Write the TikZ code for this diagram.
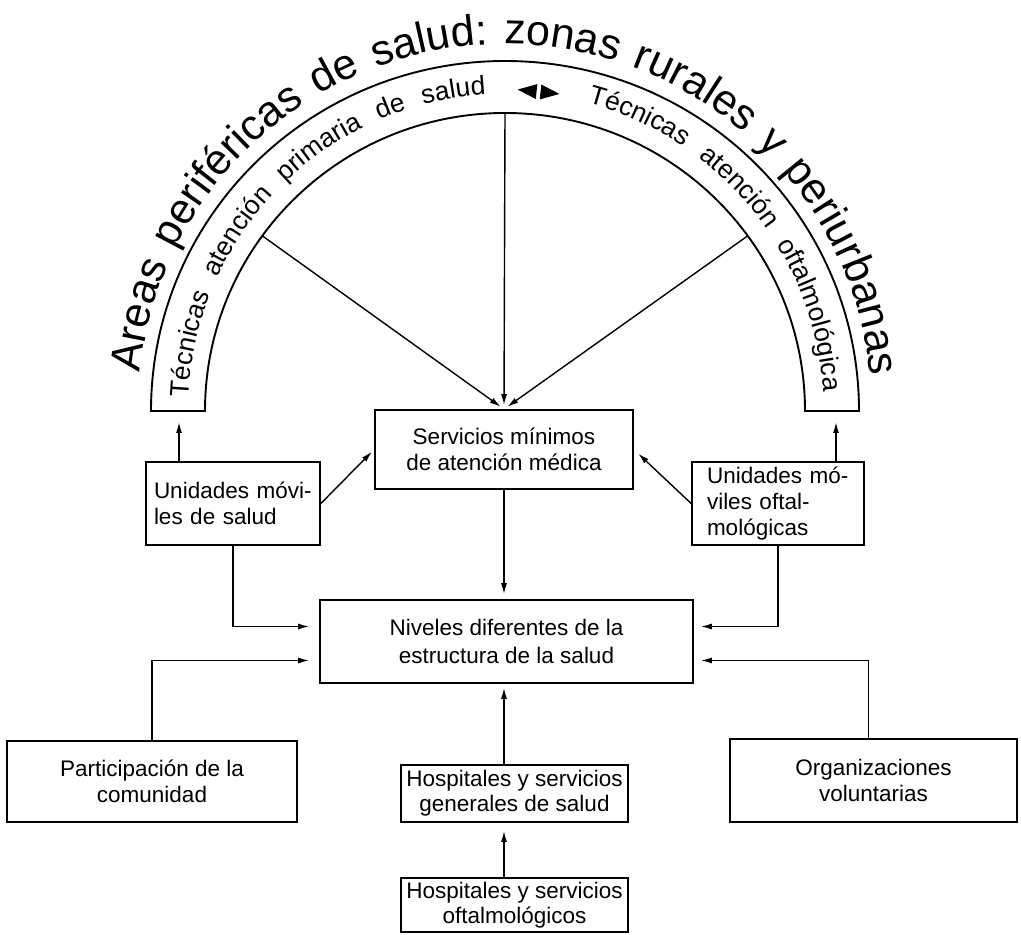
\documentclass[tikz,border=0pt]{standalone}
\usepackage{fontspec}
\setmainfont{Liberation Sans}
\usetikzlibrary{arrows.meta,calc,decorations.text}

\begin{document}
\begin{tikzpicture}[x=1pt,y=1pt,
    box/.style={draw, line width=1.7pt, inner sep=0pt, align=center, font=\fontsize{22.5}{26}\selectfont},
    conn/.style={-{Latex[length=11pt,width=6pt]}, line width=1.4pt}]
    \useasboundingbox (0,0) rectangle (1021,935);
    \coordinate (C) at (505,524);

    % Band of peripheral areas
    \draw[line width=1.9pt] ($(C)+(-354,0)$) arc[start angle=180, end angle=0, x radius=354pt, y radius=350pt]
        -- ($(C)+(300,0)$) arc[start angle=0, end angle=180, x radius=300pt, y radius=298pt] -- cycle;
    \coordinate (bandL) at (179,524);
    \coordinate (bandR) at (836,524);
    \foreach \a/\n in {144/pl, 90/pt, 36/pr}
        \coordinate (\n) at ($(C)+(\a:300pt and 298pt)$);

    % Title around the band
    \path[decorate, decoration={text along path, text align={fit to path stretching spaces},
        text={|\fontsize{43}{43}\selectfont|Areas periféricas de salud: zonas rurales y periurbanas}}]
        ($(C)+(174:367pt)$) arc[start angle=174, end angle=5.5, radius=367pt];

    % Texts inside the band
    \path[decorate, decoration={text along path, text align={fit to path stretching spaces},
        text={|\fontsize{26.5}{26.5}\selectfont|Técnicas atención primaria de salud}}]
        ($(C)+(177.5:317pt)$) arc[start angle=177.5, end angle=93.5, radius=317pt];
    \path[decorate, decoration={text along path, text align={fit to path stretching spaces},
        text={|\fontsize{26.5}{26.5}\selectfont|Técnicas atención oftalmológica}}]
        ($(C)+(75:319pt)$) arc[start angle=75, end angle=3.5, radius=319pt];
    % Double pointer
    \coordinate (sym) at ($(C)+(84:321pt)$);
    \fill[shift={(sym)}, rotate=-6] (-2,-7.5) -- (-2,7.5) -- (-21,0) -- cycle
        (2,-7.5) -- (2,7.5) -- (21,0) -- cycle;

    % Boxes
    \node[box, minimum width=258pt, minimum height=79pt] (serv) at (504,485.5) {Servicios mínimos\\de atención médica};
    \node[box, minimum width=174pt, minimum height=83pt, text width=158pt, align=left] (umov) at (233,431.5) {Unidades móvi-\\les de salud};
    \node[box, minimum width=172pt, minimum height=83pt, text width=142pt, align=left] (uoft) at (778,431.5) {Unidades mó-\\viles oftal-\\mológicas};
    \node[box, minimum width=373pt, minimum height=83pt, font=\fontsize{22.5}{28}\selectfont] (niv) at (506.5,293.5) {Niveles diferentes de la\\estructura de la salud};
    \node[box, minimum width=290pt, minimum height=81pt] (part) at (152,153.5) {Participación de la\\comunidad};
    \node[box, minimum width=287pt, minimum height=83pt] (org) at (873.5,154.5) {Organizaciones\\voluntarias};
    \node[box, minimum width=227pt, minimum height=57pt, font=\fontsize{22.5}{25}\selectfont] (hgen) at (514.5,141.5) {Hospitales y servicios\\generales de salud};
    \node[box, minimum width=227pt, minimum height=54pt, font=\fontsize{22.5}{25}\selectfont] (hoft) at (514.5,30) {Hospitales y servicios\\oftalmológicos};

    % Connectors
    \foreach \n in {pl, pt, pr}
        \draw[conn, shorten >=4pt] (\n) -- (serv.north);
    \draw[conn, shorten >=11pt] (umov.north -| bandL) -- (bandL);
    \draw[conn, shorten >=11pt] (uoft.north -| bandR) -- (bandR);
    \draw[conn, shorten >=3pt] (umov.east) -- (serv.west);
    \draw[conn, shorten >=6pt] (uoft.west) -- (serv.east);
    \draw[conn, shorten >=5pt] (serv.south) -- (niv.north -| serv.south);
    \draw[conn, shorten >=10pt] (umov.south) |- ([yshift=15pt]niv.west);
    \draw[conn, shorten >=10pt] (part.north) |- ([yshift=-19pt]niv.west);
    \draw[conn, shorten >=7pt] (uoft.south) |- ([yshift=15pt]niv.east);
    \draw[conn, shorten >=7pt] ([xshift=-5pt]org.north) |- ([yshift=-19pt]niv.east);
    \draw[conn, shorten >=4pt] (hgen.north -| serv.south) -- (niv.south -| serv.south);
    \draw[conn, shorten >=8pt] (hoft.north -| serv.south) -- (hgen.south -| serv.south);
\end{tikzpicture}
\end{document}
